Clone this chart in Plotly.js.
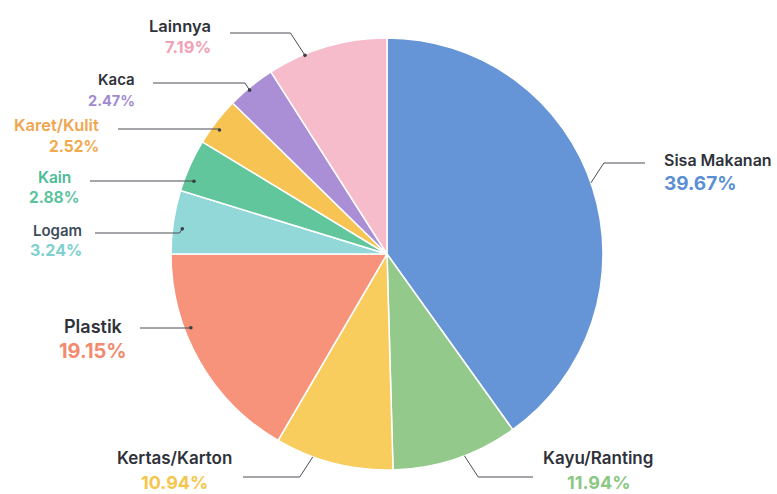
<!DOCTYPE html>
<html>
<head>
<meta charset="utf-8">
<script src="https://cdn.plot.ly/plotly-3.0.1.min.js"></script>
<style>
  html, body { margin: 0; padding: 0; background: #ffffff; }
  #chart { width: 777px; height: 494px; }
</style>
</head>
<body>
<div id="chart"></div>
<script>
// ---- data ----
const categories = ["Sisa Makanan", "Kayu/Ranting", "Kertas/Karton", "Plastik", "Logam", "Kain", "Karet/Kulit", "Kaca", "Lainnya"];
// slice sizes as drawn in the picture
const sliceValues = [40.11, 9.44, 8.86, 16.58, 4.75, 3.94, 3.64, 3.64, 9.03];
// percentages printed on the labels
const percentLabels = ["39.67%", "11.94%", "10.94%", "19.15%", "3.24%", "2.88%", "2.52%", "2.47%", "7.19%"];

// ---- styles ----
const sliceColors = ["#6595d6", "#93c98b", "#f8cd5e", "#f6937a", "#93d8d8", "#62c69c", "#f7c453", "#ab8fd6", "#f7bccb"];
const nameColors  = ["#2f323a", "#2f323a", "#2f323a", "#2f323a", "#3e4e5a", "#4dbb98", "#f0a550", "#2f323a", "#2f323a"];
const pctColors   = ["#5b8fd4", "#8cc784", "#f5c64c", "#f28a6f", "#7fd0d0", "#5cc49f", "#f2aa4c", "#a18bd0", "#f2a2b6"];

// ---- layout geometry (pixels) ----
const W = 777, H = 494;
const CX = 387, CY = 254, R = 216;
// label placement: where the leader line ends, label text anchor, where on the slice the leader starts
// pctY null => percentage sits at the bottom edge of the picture
const labelPlacement = [
  {lineEndX: 645, lineY: 163, textX: 662, nameY: 160, pctY: 183, anchor: "left",   frac: 0.49, rad: 1.0,  dot: false, nameSize: 16, pctSize: 19},
  {lineEndX: 533, lineY: 477, textX: 598, nameY: 458, pctY: null, anchor: "center", frac: 0.43, rad: 1.0,  dot: false, nameSize: 17, pctSize: 18},
  {lineEndX: 243, lineY: 477, textX: 174, nameY: 458, pctY: null, anchor: "center", frac: 0.68, rad: 1.0,  dot: false, nameSize: 17, pctSize: 18},
  {lineEndX: 140, lineY: 328, textX: 93,  nameY: 326, pctY: 351, anchor: "center", frac: 0.655, rad: 0.97, dot: true, nameSize: 18, pctSize: 20},
  {lineEndX: 95,  lineY: 233, textX: 84,  nameY: 230, pctY: 250, anchor: "right",  frac: 0.41, rad: 0.955, dot: true, nameSize: 15, pctSize: 16},
  {lineEndX: 90,  lineY: 181, textX: 54,  nameY: 177, pctY: 197, anchor: "center", frac: 0.25, rad: 0.955, dot: true, nameSize: 15.5, pctSize: 15.5},
  {lineEndX: 118, lineY: 129, textX: 101, nameY: 125, pctY: 146, anchor: "right",  frac: 0.40, rad: 0.965, dot: true, nameSize: 16.5, pctSize: 15.5},
  {lineEndX: 153, lineY: 83,  textX: 137, nameY: 80,  pctY: 100, anchor: "right",  frac: 0.43, rad: 0.99, dot: true, nameSize: 15, pctSize: 14.5},
  {lineEndX: 230, lineY: 33,  textX: 213, nameY: 26,  pctY: 47,  anchor: "right",  frac: 0.31, rad: 0.995, dot: true, nameSize: 16.5, pctSize: 16.5}
];

const px = x => x / W;
const py = y => 1 - y / H;

const total = sliceValues.reduce((a, b) => a + b, 0);
let cum = 0;
const shapes = [];
const annotations = [];
const fontFam = "Inter, 'Noto Sans', 'DejaVu Sans', sans-serif";

sliceValues.forEach((v, i) => {
  const startDeg = cum / total * 360;
  const widthDeg = v / total * 360;
  cum += v;
  const p = labelPlacement[i];
  const a = (startDeg + p.frac * widthDeg) * Math.PI / 180;  // clockwise from 12 o'clock
  const dx0 = CX + R * p.rad * Math.sin(a);
  const dy0 = CY - R * p.rad * Math.cos(a);
  const side = Math.sign(p.lineEndX - dx0);
  const ex = dx0 + side * Math.abs(p.lineY - dy0) * 0.65;
  const ey = p.lineY;
  shapes.push({
    type: "path", xref: "paper", yref: "paper", layer: "above",
    path: `M ${px(dx0)} ${py(dy0)} L ${px(ex)} ${py(ey)} L ${px(p.lineEndX)} ${py(ey)}`,
    line: {color: "#4a4d55", width: 1}
  });
  if (p.dot) {
    const rr = 1.8;
    shapes.push({
      type: "circle", xref: "paper", yref: "paper", layer: "above",
      x0: px(dx0 - rr), x1: px(dx0 + rr), y0: py(dy0 + rr), y1: py(dy0 - rr),
      fillcolor: "#3a3d45", line: {width: 0}
    });
  }
  const al = p.anchor === "center" ? "center" : p.anchor;
  const atBottom = p.pctY === null;
  annotations.push({
    xref: "paper", yref: "paper", x: px(p.textX), y: py(p.nameY),
    xanchor: p.anchor, yanchor: "middle", align: al,
    borderpad: atBottom ? 0 : 1,
    showarrow: false, text: categories[i],
    font: {family: fontFam, size: p.nameSize, color: nameColors[i], weight: 600}
  });
  annotations.push({
    xref: "paper", yref: "paper", x: px(p.textX), y: atBottom ? 0 : py(p.pctY),
    xanchor: p.anchor, yanchor: atBottom ? "bottom" : "middle", align: al,
    borderpad: atBottom ? 0 : 1,
    showarrow: false, text: percentLabels[i],
    font: {family: fontFam, size: p.pctSize, color: pctColors[i], weight: 700}
  });
});

const trace = {
  type: "pie",
  labels: categories,
  values: sliceValues,
  sort: false,
  direction: "clockwise",
  rotation: 0,
  textinfo: "none",
  hoverinfo: "label",
  marker: {colors: sliceColors, line: {color: "#ffffff", width: 1.5}},
  domain: {x: [(CX - R) / W, (CX + R) / W], y: [1 - (CY + R) / H, 1 - (CY - R) / H]},
  showlegend: false
};

const layout = {
  width: W, height: H,
  margin: {l: 0, r: 0, t: 0, b: 0},
  paper_bgcolor: "#ffffff",
  plot_bgcolor: "#ffffff",
  showlegend: false,
  shapes: shapes,
  annotations: annotations
};

Plotly.newPlot("chart", [trace], layout, {displayModeBar: false, staticPlot: true});
</script>
</body>
</html>
